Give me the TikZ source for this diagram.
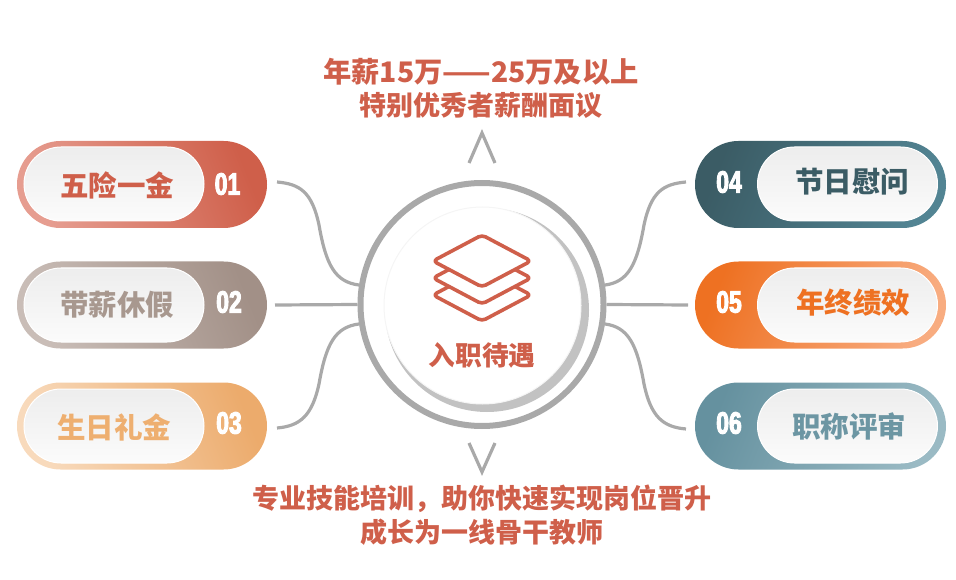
\documentclass[tikz,border=0pt]{standalone}
\usepackage{fontspec}
\setmainfont{Noto Sans CJK SC}
\newfontfamily\numfont[FakeStretch=0.74,FakeBold=3]{Liberation Sans Bold}
\usetikzlibrary{arrows}

\definecolor{redA}{HTML}{CF5F4A}
\definecolor{redB}{HTML}{E69D90}
\definecolor{taupeA}{HTML}{A29087}
\definecolor{taupeB}{HTML}{C9BDB7}
\definecolor{taupeT}{HTML}{A8988F}
\definecolor{sandA}{HTML}{ECAB6C}
\definecolor{sandB}{HTML}{F8DABC}
\definecolor{sandT}{HTML}{EEAF70}
\definecolor{slateA}{HTML}{3B5C65}
\definecolor{slateB}{HTML}{528493}
\definecolor{orangeA}{HTML}{EE7122}
\definecolor{orangeB}{HTML}{F8AC80}
\definecolor{tealA}{HTML}{65919F}
\definecolor{tealB}{HTML}{9ABAC4}
\definecolor{tealT}{HTML}{6C96A3}
\definecolor{lineGray}{HTML}{A9A9A9}

\pgfdeclareradialshading{softshadow}{\pgfpointorigin}{color(0bp)=(black!24); color(44bp)=(black!24); color(46.5bp)=(black!10); color(48.5bp)=(black!3); color(50bp)=(white)}

\tikzset{
    pillLeft/.style 2 args={rectangle, inner sep=0pt, minimum width=250pt, minimum height=87pt,
        rounded corners=43.5pt, left color=#1, middle color=#2, right color=#2, shading angle=112},
    pillRight/.style 2 args={rectangle, inner sep=0pt, minimum width=251pt, minimum height=87pt,
        rounded corners=43.5pt, left color=#1, middle color=#1, right color=#2, shading angle=68},
    pillIn/.style={rectangle, draw=white, line width=1pt, inner sep=0pt, minimum width=180pt, minimum height=74pt,
        rounded corners=37pt, top color=black!7, bottom color=black!1.5},
    itemText/.style={font=\fontsize{28.5}{28.5}\selectfont\bfseries, text=#1, inner sep=0pt},
    numText/.style={font=\numfont\fontsize{31}{31}\selectfont, text=white, inner sep=0pt},
    capText/.style={font=\fontsize{27}{27}\selectfont\bfseries, text=redA, inner sep=0pt},
    conn/.style={draw=lineGray, line width=3.2pt},
    layer/.style={draw=redA, line width=3.6pt, fill=white, rounded corners=4pt, line join=round}
}

\begin{document}
\begin{tikzpicture}[x=1pt,y=-1pt]
    \useasboundingbox (0,0) rectangle (956,580);

    \node[capText, font=\fontsize{28.3}{28.3}\selectfont\bfseries] (Salary) at (481,72) {年薪15万——25万及以上};
    \node[capText] (SalaryB) at (481,105) {特别优秀者薪酬面议};
    \node[capText] (Train) at (482,499) {专业技能培训，助你快速实现岗位晋升};
    \node[capText] (TrainB) at (482,532) {成长为一线骨干教师};

    % left column
    \node[pillLeft={redB}{redA}] (Wuxian) at (142,184.5) {};
    \node[pillLeft={taupeB}{taupeA}] (Daixin) at (142,305) {};
    \node[pillLeft={sandB}{sandA}] (Shengri) at (142,426) {};
    \node[pillIn] (WuxianIn) at (114,184) {};
    \node[pillIn] (DaixinIn) at (114,305) {};
    \node[pillIn] (ShengriIn) at (114,426) {};
    \node[itemText=redA] (WuxianText) at (117,185) {五险一金};
    \node[itemText=taupeT] (DaixinText) at (117,305) {带薪休假};
    \node[itemText=sandT] (ShengriText) at (114,427) {生日礼金};
    \node[numText] (WuxianNum) at (227.5,184) {01};
    \node[numText] (DaixinNum) at (229,302) {02};
    \node[numText] (ShengriNum) at (229,423) {03};

    % right column
    \node[pillRight={slateA}{slateB}] (Jieri) at (820.5,184.5) {};
    \node[pillRight={orangeA}{orangeB}] (Nianzhong) at (820.5,305) {};
    \node[pillRight={tealA}{tealB}] (Zhicheng) at (820.5,426) {};
    \node[pillIn] (JieriIn) at (847.5,184) {};
    \node[pillIn] (NianzhongIn) at (847.5,305) {};
    \node[pillIn] (ZhichengIn) at (847.5,426) {};
    \node[itemText=slateA] (JieriText) at (852,182) {节日慰问};
    \node[itemText=orangeA] (NianzhongText) at (853,303) {年终绩效};
    \node[itemText=tealT] (ZhichengText) at (849,426) {职称评审};
    \node[numText] (JieriNum) at (729,182) {04};
    \node[numText] (NianzhongNum) at (729,302) {05};
    \node[numText] (ZhichengNum) at (729,423) {06};

    % centre
    \shade[shading=softshadow] (487,310) circle (102);
    \node[circle, draw=black!4, line width=1pt, fill=white, minimum size=197pt, inner sep=0pt] (Core) at (482.5,305.5) {};
    \node[circle, draw=lineGray, line width=6pt, minimum size=243pt, inner sep=0pt] (Ring) at (482,304.5) {};

    \draw[layer] (482,269) -- (531,295) -- (482,321) -- (433,295) -- cycle;
    \draw[layer] (482,252) -- (531,278) -- (482,304) -- (433,278) -- cycle;
    \draw[layer] (482,235) -- (531,261) -- (482,287) -- (433,261) -- cycle;
    \node[font=\fontsize{26.7}{27}\selectfont\bfseries, text=redA, inner sep=0pt] (Title) at (482,355) {入职待遇};

    % free ends of the connectors
    \coordinate (WuxianEnd) at (277,182);
    \coordinate (DaixinEnd) at (275,305);
    \coordinate (ShengriEnd) at (277,428);
    \coordinate (JieriEnd) at (686,182);
    \coordinate (NianzhongEnd) at (688,305);
    \coordinate (ZhichengEnd) at (686,429);

    \draw[conn] (WuxianEnd) .. controls (300,184) and (312,192) .. (319,225) .. controls (326,265) and (335,282) .. (Ring.171);
    \draw[conn] (DaixinEnd) -- (Ring.west);
    \draw[conn] (ShengriEnd) .. controls (300,426) and (312,416) .. (319,384) .. controls (326,344) and (335,327) .. (Ring.189);
    \draw[conn] (JieriEnd) .. controls (663,184) and (651,192) .. (644,225) .. controls (637,265) and (628,282) .. (Ring.9);
    \draw[conn] (NianzhongEnd) -- (Ring.east);
    \draw[conn] (ZhichengEnd) .. controls (663,427) and (651,417) .. (644,384) .. controls (637,344) and (628,327) .. (Ring.-9);

    % chevrons
    \coordinate (UpApex) at (482,133);
    \coordinate (DownApex) at (482,472);
    \draw[conn] (469,163) -- (UpApex) -- (495,163);
    \draw[conn] (469,443) -- (DownApex) -- (495,443);
\end{tikzpicture}
\end{document}
